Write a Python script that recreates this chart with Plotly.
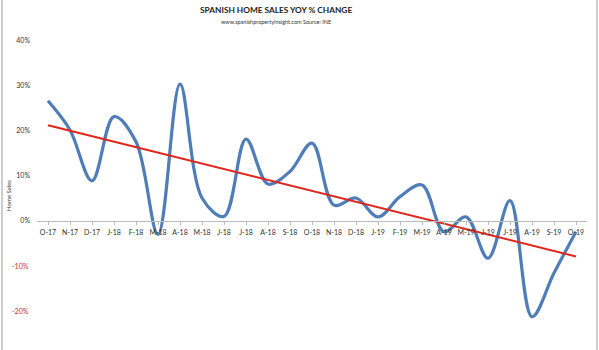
import numpy as np
import plotly.graph_objects as go

months = ["O-17","N-17","D-17","J-18","F-18","M-18","A-18","M-18","J-18","J-18","A-18","S-18",
          "O-18","N-18","D-18","J-19","F-19","M-19","A-19","M-19","J-19","J-19","A-19","S-19","O-19"]
yoy_change = [26.7, 20.2, 8.9, 23.2, 17.6, -3.0, 30.4, 5.1, 1.0, 18.2, 8.2, 11.0,
              17.3, 3.5, 5.1, 0.9, 5.4, 8.0, -2.4, 0.9, -8.3, 4.5, -21.3, -11.6, -2.4]
y_ticks = [-20, -10, 0, 10, 20, 30, 40]

idx = np.arange(len(months))
slope, intercept = np.polyfit(idx, yoy_change, 1)
trend = slope * idx + intercept

W, H = 599, 350
ml, mr, mt, mb = 37, 12, 41, 0
ymin, ymax = -28.7, 40
font = "Lato"
pw, ph = W - ml - mr, H - mt - mb

fig = go.Figure()
fig.add_trace(go.Scatter(x=idx, y=yoy_change, mode="lines",
                         line=dict(color="#4F7DB8", width=3.2, shape="spline", smoothing=1.0),
                         hoverinfo="skip", showlegend=False))
fig.add_trace(go.Scatter(x=idx, y=trend, mode="lines",
                         line=dict(color="#E1251B", width=2),
                         hoverinfo="skip", showlegend=False))

pos_ticks = [v for v in y_ticks if v >= 0]
fig.update_layout(
    width=W, height=H,
    margin=dict(l=ml, r=mr, t=mt, b=mb),
    paper_bgcolor="white", plot_bgcolor="white",
    font=dict(family=font, size=7, color="#333333"),
    xaxis=dict(
        range=[-0.5, len(months) - 0.5],
        tickmode="array", tickvals=list(idx), ticktext=months,
        showgrid=False, zeroline=False,
        showline=True, linecolor="#BBBBBB", linewidth=1,
        ticks="outside", ticklen=3, tickcolor="#BBBBBB",
        ticklabelstandoff=2,
        anchor="free", position=(0 - ymin) / (ymax - ymin),
        tickfont=dict(family=font, size=7, color="#333333"),
        fixedrange=True,
    ),
    yaxis=dict(
        range=[ymin, ymax],
        tickmode="array", tickvals=pos_ticks, ticktext=[f"{v}%" for v in pos_ticks],
        showgrid=False, zeroline=False, showline=False,
        ticks="", ticklabelstandoff=6,
        tickfont=dict(family=font, size=7, color="#333333"),
        title=dict(text="Home Sales", font=dict(family=font, size=6, color="#333333"), standoff=4),
        fixedrange=True,
    ),
)

for v in y_ticks:
    if v < 0:
        fig.add_annotation(x=0, xref="paper", xanchor="right", xshift=-6,
                           y=v, yref="y", yanchor="middle", text=f"{v}%", showarrow=False,
                           font=dict(family=font, size=7, color="#D0282A"))

fig.add_annotation(xref="paper", yref="paper",
                   x=(276 - ml) / pw, y=1 + (mt - 10) / ph, xanchor="center", yanchor="middle",
                   text="<b>SPANISH HOME SALES YOY % CHANGE</b>", showarrow=False,
                   font=dict(family=font, size=8.3, color="#222222"))
fig.add_annotation(xref="paper", yref="paper",
                   x=(276 - ml) / pw, y=1 + (mt - 22) / ph, xanchor="center", yanchor="middle",
                   text="www.spanishpropertyinsight.com Source: INE", showarrow=False,
                   font=dict(family=font, size=5.5, color="#333333"))

for px in (2, 597):
    xp = (px - ml) / pw
    fig.add_shape(type="line", xref="paper", yref="paper", x0=xp, x1=xp,
                  y0=-0.1, y1=1.2, line=dict(color="#BDBDBD", width=1.5))

fig.write_html("out.html")
